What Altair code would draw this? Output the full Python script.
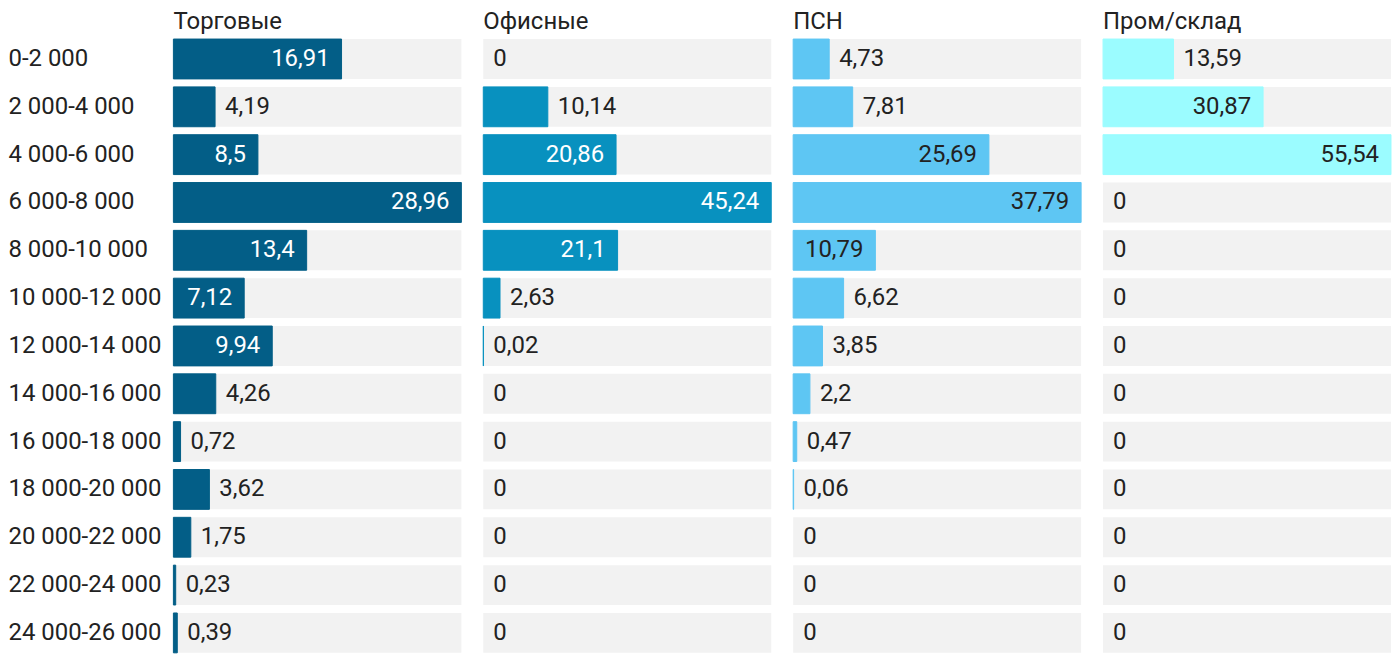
import altair as alt
import pandas as pd

categories = ["0-2 000", "2 000-4 000", "4 000-6 000", "6 000-8 000", "8 000-10 000",
              "10 000-12 000", "12 000-14 000", "14 000-16 000", "16 000-18 000",
              "18 000-20 000", "20 000-22 000", "22 000-24 000", "24 000-26 000"]
torg = [16.91, 4.19, 8.5, 28.96, 13.4, 7.12, 9.94, 4.26, 0.72, 3.62, 1.75, 0.23, 0.39]
ofis = [0, 10.14, 20.86, 45.24, 21.1, 2.63, 0.02, 0, 0, 0, 0, 0, 0]
psn = [4.73, 7.81, 25.69, 37.79, 10.79, 6.62, 3.85, 2.2, 0.47, 0.06, 0, 0, 0]
prom = [13.59, 30.87, 55.54, 0, 0, 0, 0, 0, 0, 0, 0, 0, 0]

titles = ["Торговые", "Офисные", "ПСН", "Пром/склад"]
series = [torg, ofis, psn, prom]
colors = ["#035E87", "#0891BF", "#5EC6F3", "#9BFCFF"]
inside_text = ["#FFFFFF", "#FFFFFF", "#222222", "#222222"]

W = 289
H = 616
FONT = "Roboto"
FS = 24


def fmt(v):
    return f"{v:g}".replace(".", ",")


def panel(title, vals, color, tcolor, show_axis):
    mx = max(vals)
    labels = [fmt(v) for v in vals]
    df = pd.DataFrame({
        "cat": categories,
        "v": vals,
        "full": [mx] * len(vals),
        "label": labels,
        "inside": [(v / mx * W) > len(l) * 12 + 16 for v, l in zip(vals, labels)],
    })
    if show_axis:
        yaxis = alt.Axis(title=None, ticks=False, domain=False, labelAlign="left",
                         labelPadding=166, labelFontSize=FS, labelFont=FONT,
                         labelColor="#222222", labelLimit=220)
    else:
        yaxis = None
    y = alt.Y("cat:N", sort=categories,
              scale=alt.Scale(paddingInner=1 / 6, paddingOuter=0), axis=yaxis)
    xs = alt.Scale(domain=[0, mx], nice=False, zero=True)
    base = alt.Chart(df)
    bg = base.mark_bar(color="#F2F2F2").encode(
        x=alt.X("full:Q", scale=xs, axis=None), y=y)
    bar = base.transform_filter("datum.v > 0").mark_bar(
        color=color, stroke=color, strokeWidth=1).encode(
        x=alt.X("v:Q", scale=xs, axis=None), y=y)
    t_in = base.transform_filter("datum.inside").mark_text(
        align="right", dx=-12, fontSize=FS, font=FONT, color=tcolor, baseline="middle"
    ).encode(x=alt.X("v:Q", scale=xs, axis=None), y=y, text="label:N")
    t_out = base.transform_filter("!datum.inside").mark_text(
        align="left", dx=10, fontSize=FS, font=FONT, color="#222222", baseline="middle"
    ).encode(x=alt.X("v:Q", scale=xs, axis=None), y=y, text="label:N")
    return alt.layer(bg, bar, t_in, t_out).properties(
        width=W, height=H,
        title=alt.TitleParams(title, anchor="start", frame="group", fontSize=FS,
                              font=FONT, fontWeight="normal", color="#222222",
                              offset=5),
    )


panels = [panel(t, s, c, tc, i == 0)
          for i, (t, s, c, tc) in enumerate(zip(titles, series, colors, inside_text))]

chart = alt.hconcat(*panels, spacing=20).properties(
    padding={"left": 0, "top": 0, "right": 0, "bottom": 0}
).configure_view(stroke=None)

chart.save("out.html", embed_options={"renderer": "svg", "actions": False})
